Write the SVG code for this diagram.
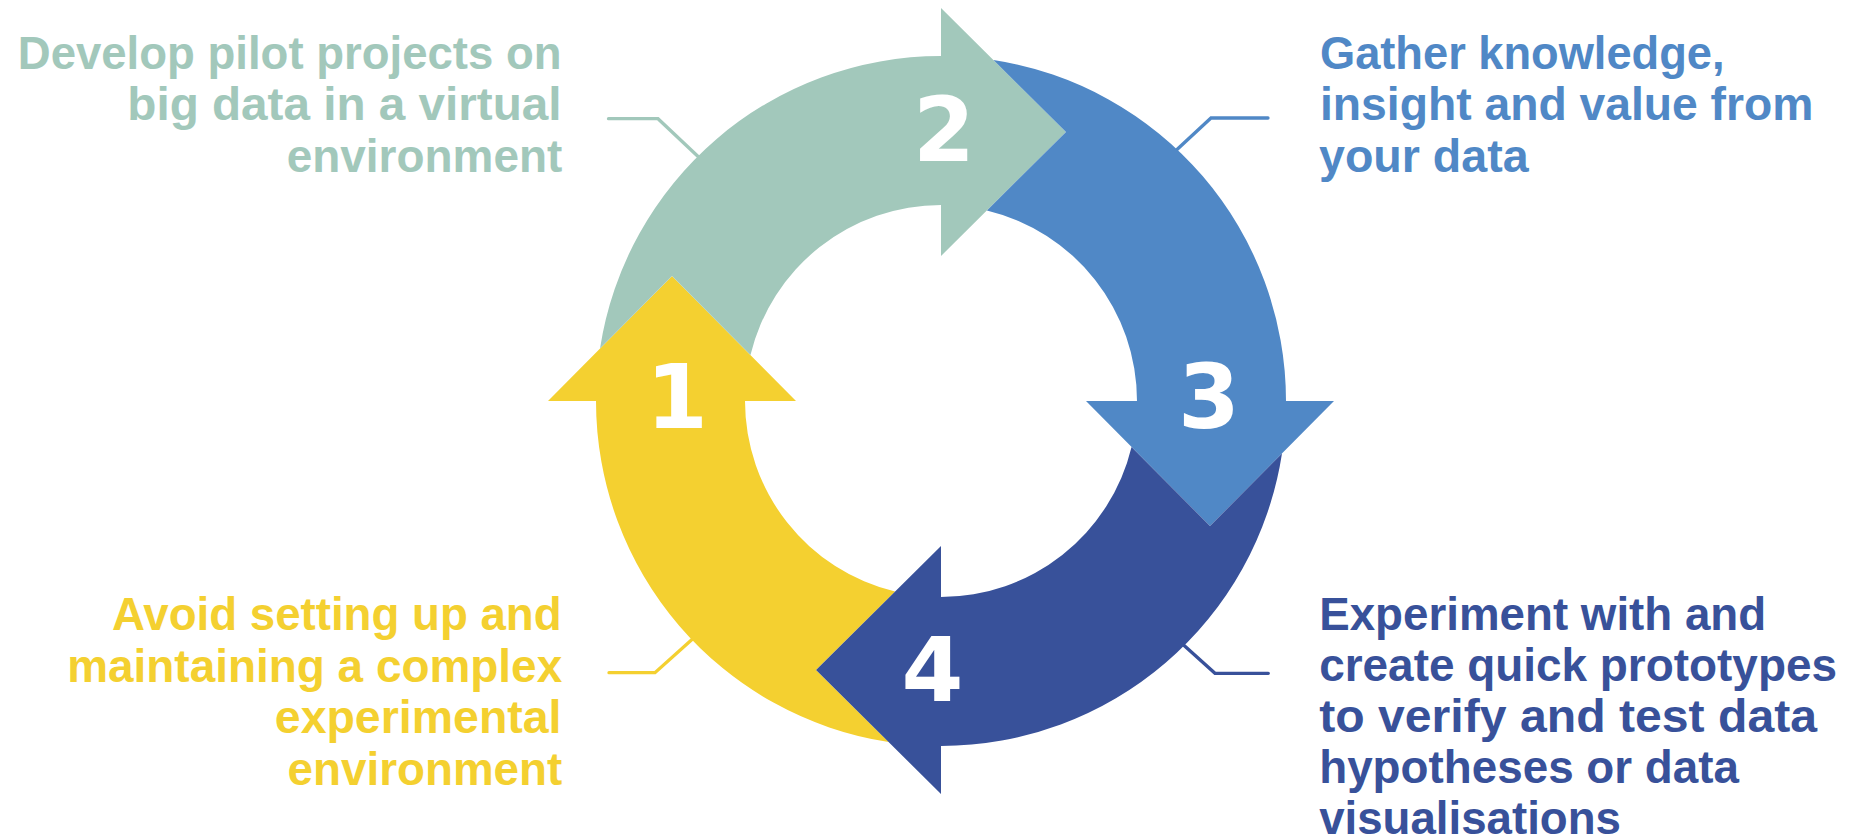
<svg xmlns="http://www.w3.org/2000/svg" width="1849" height="839" viewBox="0 0 1849 839">
  <style>
    .lbl { font-family: "Liberation Sans", Arial, sans-serif; font-weight: 700; font-size: 46px; }
    .num { font-family: "DejaVu Sans", "Liberation Sans", sans-serif; font-weight: 700; font-size: 89px; fill: #FFFFFF; text-anchor: middle; }
    .lead { fill: none; stroke-width: 3.3; stroke-linecap: round; stroke-linejoin: miter; }
    .green { fill: #A2C8BB; }
    .lblue { fill: #5088C6; }
    .dblue { fill: #38519A; }
    .yellow { fill: #F4D030; }
  </style>
  <defs>
    <path id="arrowShape" d="M600.01,348.57 A345,345 0 0 1 941,56 L941,8 L1066,132 L941,256 L941,205 A196,196 0 0 0 750.45,355.09 L672,276 Z"/>
  </defs>
  <rect x="0" y="0" width="1849" height="839" fill="#FFFFFF"/>

  <g id="connectors">
    <path class="lead" stroke="#A2C8BB" d="M608.5,118.7 H658 L706,164"/>
    <path class="lead" stroke="#5088C6" d="M1268,118 H1211 L1170,156"/>
    <path class="lead" stroke="#F4D030" d="M609,672.7 H655 L697,635"/>
    <path class="lead" stroke="#38519A" d="M1268.3,673.3 H1215 L1178,640"/>
  </g>

  <g id="step1">
    <use href="#arrowShape" class="yellow" transform="rotate(270 941 401)"/>
    <text class="num" x="677" y="428">1</text>
    <g class="lbl yellow">
      <text x="112" y="630" textLength="449.6" lengthAdjust="spacingAndGlyphs">Avoid setting up and</text>
      <text x="67.2" y="681.5" textLength="495" lengthAdjust="spacingAndGlyphs">maintaining a complex</text>
      <text x="274.8" y="733" textLength="286.7" lengthAdjust="spacingAndGlyphs">experimental</text>
      <text x="287.5" y="784.5" textLength="274.8" lengthAdjust="spacingAndGlyphs">environment</text>
    </g>
  </g>

  <g id="step2">
    <use href="#arrowShape" class="green"/>
    <text class="num" x="944" y="161">2</text>
    <g class="lbl green">
      <text x="17.8" y="68.5" textLength="543.7" lengthAdjust="spacingAndGlyphs">Develop pilot projects on</text>
      <text x="127.3" y="120" textLength="434.2" lengthAdjust="spacingAndGlyphs">big data in a virtual</text>
      <text x="286.7" y="171.5" textLength="275.6" lengthAdjust="spacingAndGlyphs">environment</text>
    </g>
  </g>

  <g id="step3">
    <use href="#arrowShape" class="lblue" transform="rotate(90 941 401)"/>
    <text class="num" x="1209" y="428">3</text>
    <g class="lbl lblue">
      <text x="1320" y="68.5" textLength="404.5" lengthAdjust="spacingAndGlyphs">Gather knowledge,</text>
      <text x="1320" y="120" textLength="493.4" lengthAdjust="spacingAndGlyphs">insight and value from</text>
      <text x="1319" y="171.5" textLength="209.6" lengthAdjust="spacingAndGlyphs">your data</text>
    </g>
  </g>

  <g id="step4">
    <use href="#arrowShape" class="dblue" transform="rotate(180 941 401)"/>
    <text class="num" x="932.5" y="701">4</text>
    <g class="lbl dblue">
      <text x="1319.2" y="630" textLength="447" lengthAdjust="spacingAndGlyphs">Experiment with and</text>
      <text x="1319.2" y="681" textLength="517.8" lengthAdjust="spacingAndGlyphs">create quick prototypes</text>
      <text x="1319.2" y="732" textLength="497.8" lengthAdjust="spacingAndGlyphs">to verify and test data</text>
      <text x="1319.2" y="783" textLength="419.8" lengthAdjust="spacingAndGlyphs">hypotheses or data</text>
      <text x="1319.2" y="834" textLength="301.8" lengthAdjust="spacingAndGlyphs">visualisations</text>
    </g>
  </g>
</svg>
